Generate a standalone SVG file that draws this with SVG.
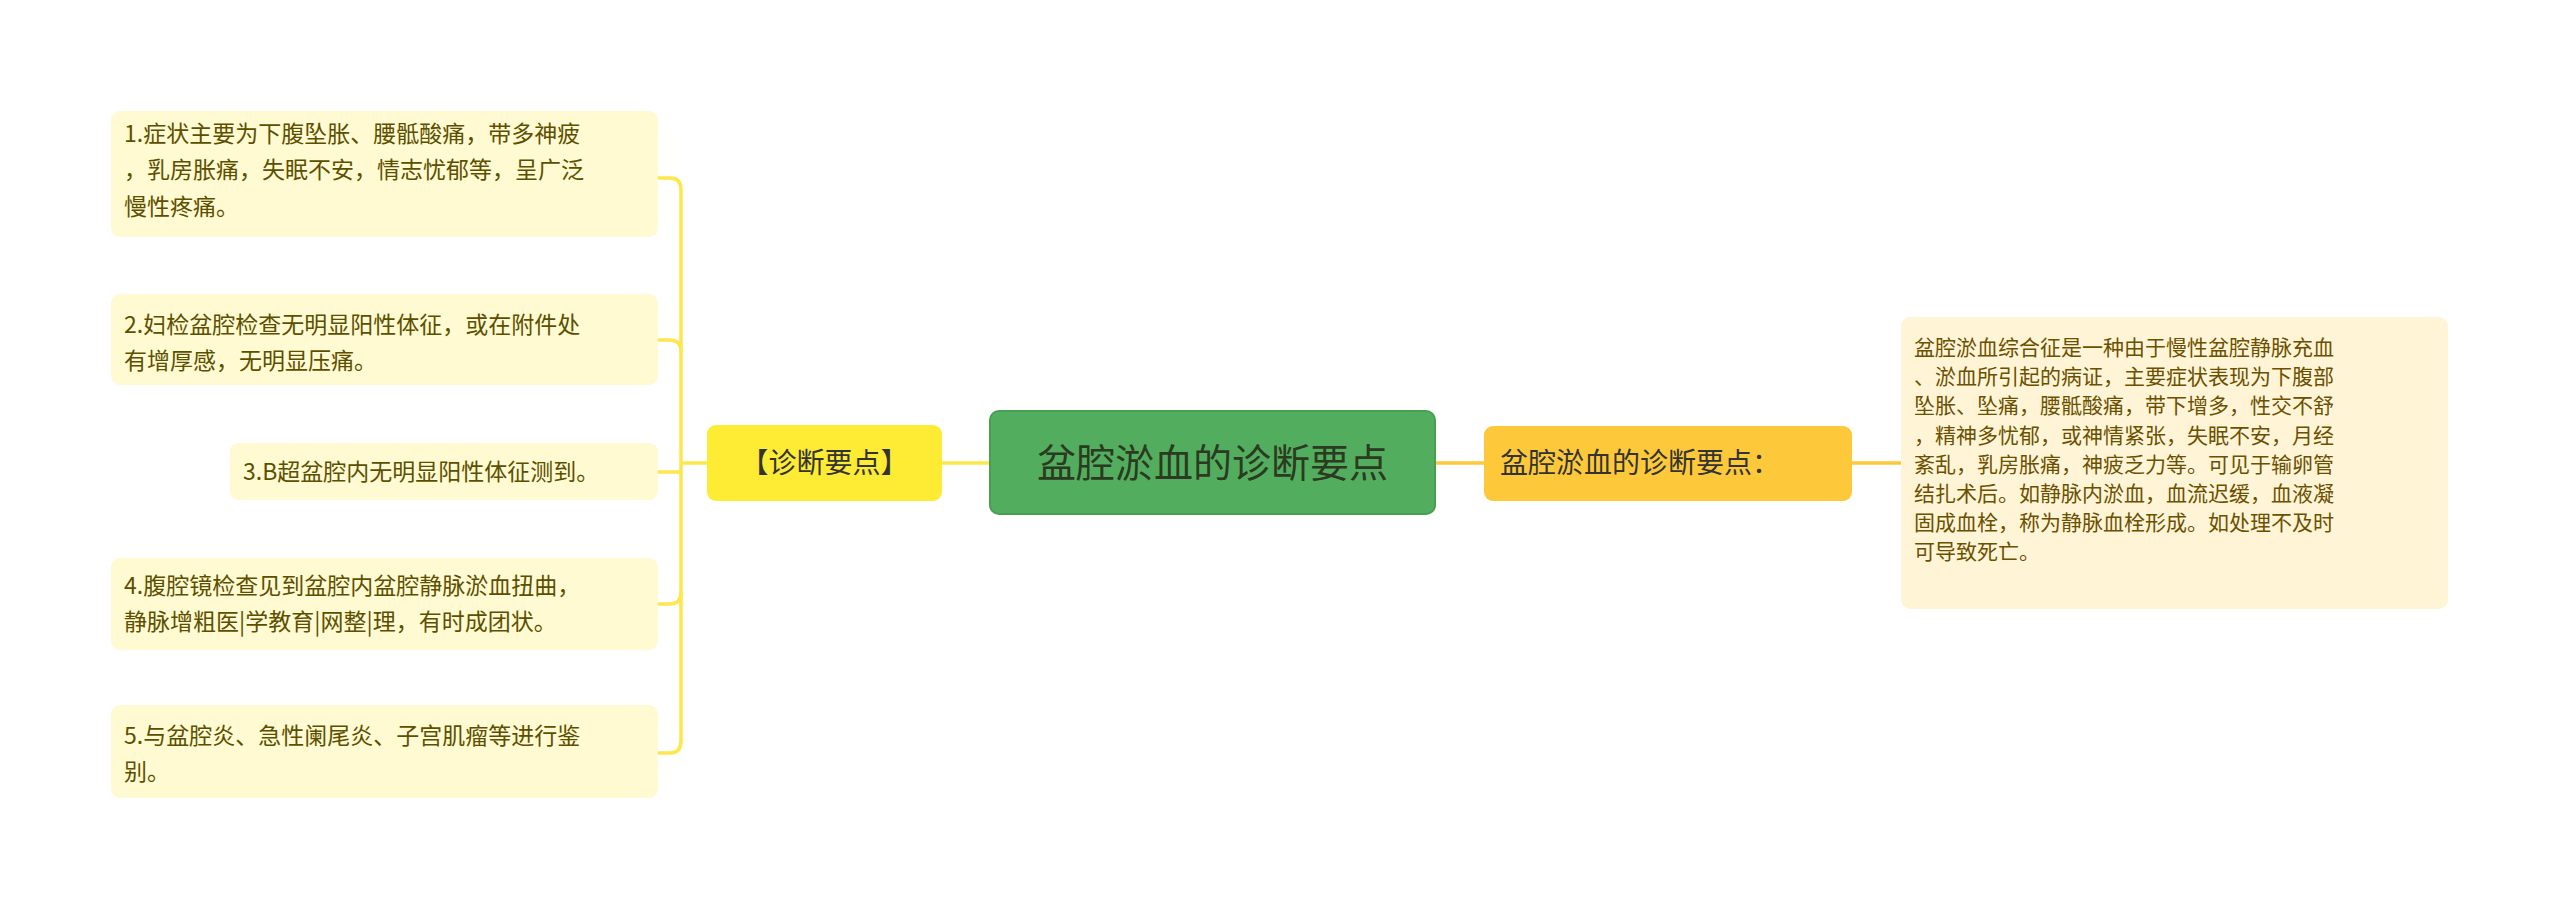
<svg xmlns="http://www.w3.org/2000/svg" width="2560" height="911" viewBox="0 0 2560 911">
<style>
.t{font-family:"Noto Sans CJK SC","Liberation Sans",sans-serif;}
.leaf{fill:#FFFAD2;}
.lt{font-size:23px;fill:#5C5000;}
.rt{font-size:21px;fill:#6B5000;}
.c{fill:none;stroke:#FDE74C;stroke-width:3.5;}
.co{fill:none;stroke:#FCC93A;stroke-width:3.5;}
</style>
<rect width="2560" height="911" fill="#fff"/>
<g id="connectors">
<path class="c" d="M707 463 H681"/>
<path class="c" d="M658 178 H670 Q681 178 681 190 V741 Q681 753 670 753 H658"/>
<path class="c" d="M658 340 H670 Q681 340 681 352"/>
<path class="c" d="M658 472 H681"/>
<path class="c" d="M658 604 H670 Q681 604 681 592"/>
<path class="c" d="M942 463 H990"/>
<path class="co" d="M1435 463 H1484"/>
<path class="co" d="M1852 463 H1901"/>
</g>
<g id="n1"><rect class="leaf" x="111" y="111" width="547" height="126" rx="9"/>
<text class="t lt" x="124" y="142">1.症状主要为下腹坠胀、腰骶酸痛，带多神疲</text>
<text class="t lt" x="124" y="178">，乳房胀痛，失眠不安，情志忧郁等，呈广泛</text>
<text class="t lt" x="124" y="215">慢性疼痛。</text></g>
<g id="n2"><rect class="leaf" x="111" y="294" width="547" height="91" rx="9"/>
<text class="t lt" x="124" y="333">2.妇检盆腔检查无明显阳性体征，或在附件处</text>
<text class="t lt" x="124" y="369">有增厚感，无明显压痛。</text></g>
<g id="n3"><rect class="leaf" x="230" y="443" width="428" height="57" rx="9"/>
<text class="t lt" x="243" y="480">3.B超盆腔内无明显阳性体征测到。</text></g>
<g id="n4"><rect class="leaf" x="111" y="558" width="547" height="92" rx="9"/>
<text class="t lt" x="124" y="594">4.腹腔镜检查见到盆腔内盆腔静脉淤血扭曲，</text>
<text class="t lt" x="124" y="630">静脉增粗医|学教育|网整|理，有时成团状。</text></g>
<g id="n5"><rect class="leaf" x="111" y="705" width="547" height="93" rx="9"/>
<text class="t lt" x="124" y="744">5.与盆腔炎、急性阑尾炎、子宫肌瘤等进行鉴</text>
<text class="t lt" x="124" y="780">别。</text></g>
<g id="key"><rect x="707" y="425" width="235" height="76" rx="9" fill="#FDEB34"/>
<text class="t" x="824.5" y="473" font-size="28" fill="#333" text-anchor="middle">【诊断要点】</text></g>
<g id="root"><rect x="990" y="411" width="445" height="103" rx="9" fill="#52AE5E" stroke="#47A052" stroke-width="2"/>
<text class="t" x="1212.5" y="477" font-size="39" fill="#2B3A20" text-anchor="middle">盆腔淤血的诊断要点</text></g>
<g id="mid"><rect x="1484" y="426" width="368" height="75" rx="9" fill="#FDC93A"/>
<text class="t" x="1500" y="473" font-size="28" fill="#333">盆腔淤血的诊断要点：</text></g>
<g id="right"><rect class="leaf" x="1901" y="317" width="547" height="292" rx="9" fill="#FFF6D8" style="fill:#FFF5D6"/>
<text class="t rt" x="1914" y="355">盆腔淤血综合征是一种由于慢性盆腔静脉充血</text>
<text class="t rt" x="1914" y="384">、淤血所引起的病证，主要症状表现为下腹部</text>
<text class="t rt" x="1914" y="413">坠胀、坠痛，腰骶酸痛，带下增多，性交不舒</text>
<text class="t rt" x="1914" y="443">，精神多忧郁，或神情紧张，失眠不安，月经</text>
<text class="t rt" x="1914" y="472">紊乱，乳房胀痛，神疲乏力等。可见于输卵管</text>
<text class="t rt" x="1914" y="501">结扎术后。如静脉内淤血，血流迟缓，血液凝</text>
<text class="t rt" x="1914" y="530">固成血栓，称为静脉血栓形成。如处理不及时</text>
<text class="t rt" x="1914" y="559">可导致死亡。</text></g>
</svg>
